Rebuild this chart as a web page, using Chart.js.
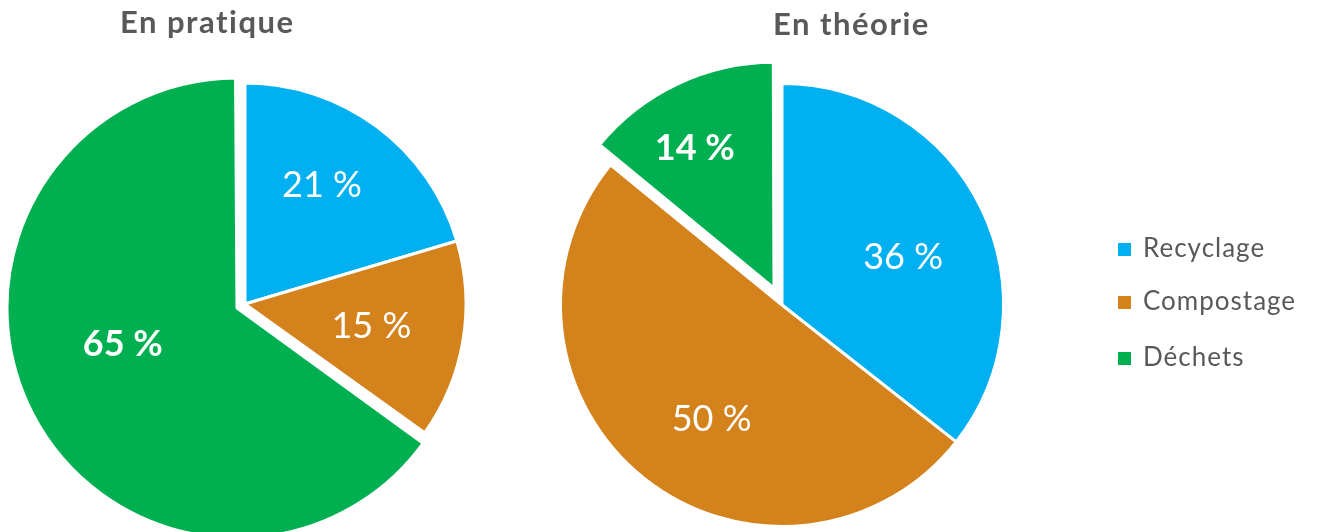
<!DOCTYPE html>
<html>
<head>
<meta charset="utf-8">
<script src="https://cdn.jsdelivr.net/npm/chart.js@4.4.0/dist/chart.umd.min.js"></script>
<style>
  body { margin: 0; background: #fff; }
  #wrap { position: relative; width: 1320px; height: 532px; overflow: hidden; }
  canvas { position: absolute; top: 0; }
</style>
</head>
<body>
<div id="wrap">
  <canvas id="chartPratique" style="left:0px"></canvas>
  <canvas id="chartTheorie" style="left:537px"></canvas>
</div>
<script>
const categories = ["Recyclage", "Compostage", "Déchets"];
const colors = ["#00B0F0", "#D3821C", "#00B050"];

const pratiqueShares = [20.4, 14.5, 65.1];
const pratiqueLabels = ["21 %", "15 %", "65 %"];
const theorieShares = [35.6, 50.3, 14.1];
const theorieLabels = ["36 %", "50 %", "14 %"];

const FONT = "Lato, 'Open Sans', sans-serif";
const GREY = "#595959";

// draws the percentage labels inside each slice
const sliceLabels = {
  id: "sliceLabels",
  afterDatasetsDraw(chart, args, opts) {
    const ctx = chart.ctx;
    const arcs = chart.getDatasetMeta(0).data;
    ctx.save();
    arcs.forEach((arc, i) => {
      const p = arc.getProps(["x", "y", "startAngle", "endAngle", "outerRadius"], true);
      const circ = p.endAngle - p.startAngle;
      const half = (p.startAngle + p.endAngle) / 2;
      const off = (arc.options.offset || 0) / 4;
      const fix = 1 - Math.sin(Math.min(Math.PI, circ));
      const shift = off * (1 + fix);
      const cx = p.x + Math.cos(half) * shift;
      const cy = p.y + Math.sin(half) * shift;
      const a = p.startAngle + opts.along[i] * circ;
      const d = opts.dist[i] * p.outerRadius;
      const size = 36;
      ctx.font = opts.weight[i] + " " + size + "px " + FONT;
      ctx.fillStyle = "#fff";
      ctx.textAlign = "center";
      ctx.textBaseline = "alphabetic";
      ctx.fillText(opts.text[i], cx + Math.cos(a) * d, cy + Math.sin(a) * d + size * 0.36);
    });
    ctx.restore();
  }
};

// chart title, plus the legend on the right-hand chart
const titleText = {
  id: "titleText",
  afterDraw(chart, args, opts) {
    const ctx = chart.ctx;
    ctx.save();
    ctx.font = "bold 31px " + FONT;
    ctx.letterSpacing = "1.5px";
    ctx.fillStyle = GREY;
    ctx.textAlign = "left";
    ctx.textBaseline = "alphabetic";
    ctx.fillText(opts.text, opts.x, opts.y);
    if (opts.legend) {
      ctx.font = "26px " + FONT;
      ctx.letterSpacing = "1px";
      opts.legend.rows.forEach((y, i) => {
        ctx.fillStyle = colors[i];
        ctx.fillRect(opts.legend.x, y - 13, 13, 13);
        ctx.fillStyle = GREY;
        ctx.fillText(categories[i], opts.legend.x + 25, y + 1);
      });
    }
    ctx.restore();
  }
};

function makePie(id, shares, labels, offsets, radius, padding, labelOpts, titleOpts) {
  return new Chart(document.getElementById(id), {
    type: "pie",
    data: {
      labels: categories,
      datasets: [{
        data: shares,
        backgroundColor: colors,
        borderColor: "#fff",
        borderWidth: 3,
        offset: offsets,
        clip: false
      }]
    },
    options: {
      responsive: false,
      animation: false,
      radius: radius,
      layout: { padding: padding },
      events: [],
      plugins: {
        legend: { display: false },
        tooltip: { enabled: false },
        sliceLabels: Object.assign({ text: labels }, labelOpts),
        titleText: titleOpts
      }
    },
    plugins: [sliceLabels, titleText]
  });
}

function sizeCanvas(id, w, h) {
  const c = document.getElementById(id);
  c.width = w; c.height = h;
  c.style.width = w + "px"; c.style.height = h + "px";
}

sizeCanvas("chartPratique", 490, 532);
sizeCanvas("chartTheorie", 783, 532);

makePie("chartPratique", pratiqueShares, pratiqueLabels, [0, 0, 36], 221,
  { top: 76, bottom: 0, left: 0, right: 0 },
  { along: [0.445, 0.5, 0.547], dist: [0.645, 0.58, 0.5], weight: ["normal", "normal", "bold"] },
  { text: "En pratique", x: 120, y: 33 });

makePie("chartTheorie", theorieShares, theorieLabels, [0, 0, 75], 221.5,
  { top: 78, bottom: 0, left: 0, right: 293 },
  { along: [0.53, 0.463, 0.42], dist: [0.59, 0.6, 0.71], weight: ["normal", "normal", "bold"] },
  { text: "En théorie", x: 236, y: 35, legend: { x: 581, rows: [256, 309, 365] } });
</script>
</body>
</html>
